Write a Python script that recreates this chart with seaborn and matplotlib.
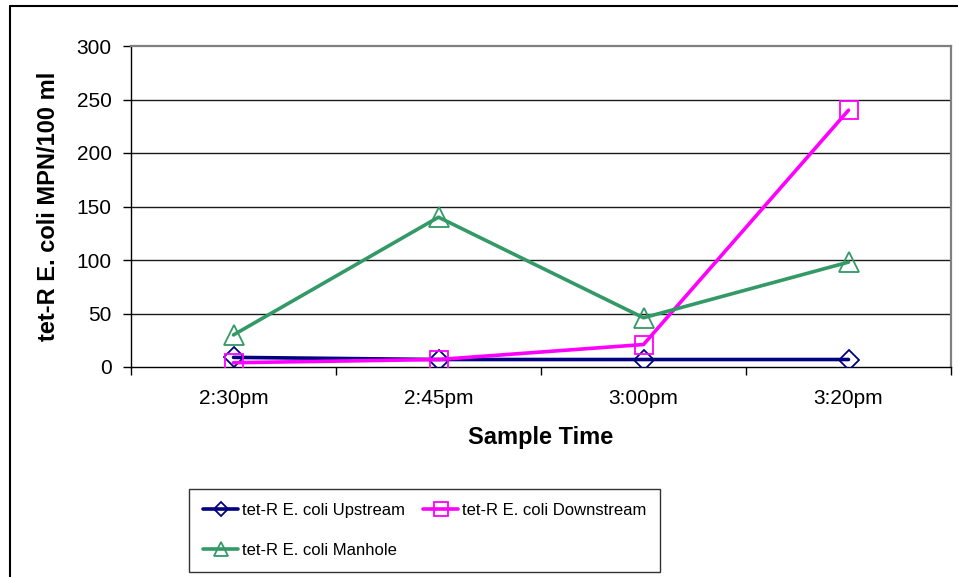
import matplotlib
matplotlib.use("Agg")
import matplotlib.pyplot as plt
from matplotlib import font_manager
from matplotlib.lines import Line2D
import seaborn as sns
import pandas as pd

sample_times = ["2:30pm", "2:45pm", "3:00pm", "3:20pm"]
upstream = [9, 7, 7, 7]
downstream = [4, 7, 21, 240]
manhole = [30, 140, 46, 98]

series_names = ["tet-R E. coli Upstream", "tet-R E. coli Downstream", "tet-R E. coli Manhole"]
series_values = [upstream, downstream, manhole]
series_colors = ["#000080", "#FF00FF", "#339966"]
series_markers = ["D", "s", "^"]
series_msizes = [10, 13, 14]

y_ticks = [0, 50, 100, 150, 200, 250, 300]

sns.set_theme(style="white")
plt.rcParams["font.family"] = ["Liberation Sans", "DejaVu Sans"]
plt.rcParams.update({"text.color": "black", "axes.labelcolor": "black",
                     "xtick.color": "black", "ytick.color": "black"})

installed = {f.name for f in font_manager.fontManager.ttflist}
if "Liberation Sans Narrow" in installed:
    legend_font = {"family": ["Liberation Sans Narrow", "DejaVu Sans"], "size": 14.5}
else:
    legend_font = {"family": ["Liberation Sans", "DejaVu Sans"], "size": 12}

W, H = 958, 577
fig = plt.figure(figsize=(W / 100, H / 100), dpi=100)
ax = fig.add_axes([131 / W, 1 - 367 / H, (951 - 131) / W, (367 - 46) / H])

frames = []
for name, vals in zip(series_names, series_values):
    frames.append(pd.DataFrame({"time": range(len(sample_times)), "value": vals, "series": name}))
df = pd.concat(frames, ignore_index=True)

# horizontal gridlines behind the data
for yv in y_ticks[1:-1]:
    ax.axhline(yv, color="#1a1a1a", lw=1.0, zorder=0)

for name, color, mk, ms in zip(series_names, series_colors, series_markers, series_msizes):
    sub = df[df["series"] == name]
    sns.lineplot(data=sub, x="time", y="value", ax=ax, color=color, lw=2.6,
                 marker=mk, markersize=ms, markerfacecolor="none",
                 markeredgecolor=color, markeredgewidth=1.3, legend=False, zorder=3)

ax.set_xlim(-0.5, len(sample_times) - 0.5)
ax.set_ylim(0, 300)
ax.set_yticks(y_ticks)
ax.set_yticklabels([str(v) for v in y_ticks], fontsize=15)
ax.set_xticks(range(len(sample_times)))
ax.set_xticklabels(sample_times, fontsize=15)
ax.set_xticks([i - 0.5 for i in range(len(sample_times) + 1)], minor=True)
ax.tick_params(axis="x", which="major", length=0, pad=16)
ax.tick_params(axis="x", which="minor", length=6, width=1, color="black", direction="out", bottom=True)
ax.tick_params(axis="y", which="major", length=6, width=1, color="black", direction="out", left=True, pad=8)

ax.set_xlabel("Sample Time", fontsize=17, fontweight="bold", labelpad=13)
ax.set_ylabel("tet-R E. coli MPN/100 ml", fontsize=17, fontweight="bold", labelpad=12)

for side in ["left", "bottom"]:
    ax.spines[side].set_color("black")
    ax.spines[side].set_linewidth(1.0)
for side in ["top", "right"]:
    ax.spines[side].set_color("#808080")
    ax.spines[side].set_linewidth(1.6)

handles = [Line2D([], [], color=c, lw=2.6, marker=m, markersize=ms * 0.75, markerfacecolor="none",
                  markeredgecolor=c, markeredgewidth=1.3)
           for c, m, ms in zip(series_colors, series_markers, series_msizes)]
# legend fills column by column: put Manhole under Upstream
order = [0, 2, 1]
fs_px = legend_font["size"] * 100 / 72
leg = fig.legend([handles[i] for i in order], [series_names[i] for i in order],
                 loc="upper left", bbox_to_anchor=(189 / W, 1 - 489 / H),
                 ncol=2, prop=legend_font, frameon=True, fancybox=False,
                 handlelength=35 / fs_px, handletextpad=4 / fs_px, borderaxespad=0,
                 borderpad=14 / fs_px, labelspacing=25 / fs_px, columnspacing=18 / fs_px)
leg.get_frame().set_edgecolor("black")
leg.get_frame().set_linewidth(1.0)

# outer chart border
fig.add_artist(Line2D([10 / W, 1.0], [1 - 6 / H, 1 - 6 / H], color="black", lw=1.5, transform=fig.transFigure))
fig.add_artist(Line2D([10 / W, 10 / W], [0, 1 - 6 / H], color="black", lw=1.5, transform=fig.transFigure))

fig.savefig("out.png", dpi=100, facecolor="white")
